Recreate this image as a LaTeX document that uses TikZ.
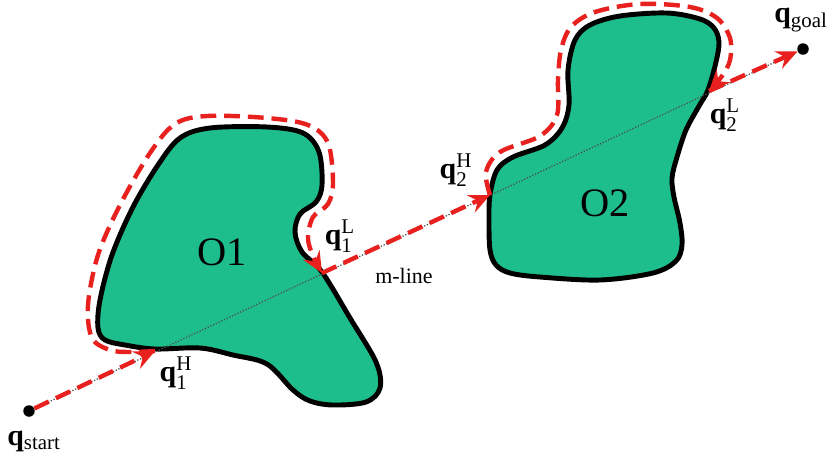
\documentclass[tikz,border=0pt]{standalone}
\usepackage{fontspec}
\setmainfont{Liberation Serif}
\usetikzlibrary{arrows.meta}
\definecolor{obgreen}{RGB}{30,190,140}
\definecolor{pathred}{RGB}{232,32,30}
\begin{document}
\begin{tikzpicture}[x=0.02cm,y=-0.02cm,
  obstacle/.style={fill=obgreen, draw=black, line width=2.8pt, line join=round},
  mline/.style={draw=black!70, line width=0.7pt, densely dotted},
  route/.style={draw=pathred, line width=2.5pt, dash pattern=on 9pt off 4.5pt,
    -{Stealth[length=0.42cm,width=0.38cm,inset=0.15cm]}},
  qlabel/.style={font=\fontsize{17}{19}\selectfont, inner sep=0pt},
  olabel/.style={font=\fontsize{23}{26}\selectfont, inner sep=0pt},
  smalllabel/.style={font=\fontsize{12.5}{14}\selectfont, inner sep=0pt},
  dot/.style={circle, fill=black, inner sep=0pt, minimum size=0.23cm}]
\useasboundingbox (0,0) rectangle (829,468);

% obstacles
\draw[obstacle] plot[smooth cycle, tension=0.55] coordinates {
  (155,349) (125,345) (105,340) (98,328) (100,300) (112,255) (133,207)
  (158,165) (180,138) (210,128) (267,127) (303,133) (319,152) (322,185)
  (316,202) (300,214) (295,232) (302,252) (322,272) (350,318) (376,362)
  (380,388) (366,402) (333,405) (310,401) (293,390) (267,364) (233,355)
  (200,348)};
\draw[obstacle] plot[smooth cycle, tension=0.55] coordinates {
  (490,195) (489,220) (490,250) (496,265) (510,273) (540,277) (600,280)
  (653,273) (676,261) (682,245) (680,223) (674,197) (672,178) (677,157)
  (686,130) (699,106) (708,90) (716,62) (719,42) (714,28) (700,19)
  (667,13) (620,16) (590,25) (575,40) (568,70) (569,105) (562,128)
  (545,145) (513,157) (497,170)};

% points
\node[dot] (s) at (29,411) {};
\node[dot] (g) at (803,49) {};
\coordinate (h1) at (155,351);
\coordinate (l1) at (322,273);
\coordinate (h2) at (490,195);
\coordinate (l2) at (709,91);

% m-line
\draw[mline] (s) -- (g);

% routes
\draw[route] (s) -- (h1);
\draw[route] plot[smooth, tension=0.55] coordinates {
  (h1) (130,352) (110,350) (92,338) (88,305) (98,255) (120,205) (150,153)
  (175,124) (207,116) (267,118) (308,125) (328,143) (333,183) (328,204)
  (313,217) (308,238) (313,256) (l1)};
\draw[route] (l1) -- (h2);
\draw[route] plot[smooth, tension=0.55] coordinates {
  (h2) (486,172) (500,152) (540,136) (557,115) (558,80) (561,50) (571,27)
  (595,12) (640,4) (690,7) (717,18) (730,38) (730,60) (722,76) (l2)};
\draw[route] (l2) -- (g);

% labels
\node[qlabel] (ls) at (34,441) {$\mathbf{q}_{\mathrm{start}}$};
\node[qlabel] (lg) at (801,20) {$\mathbf{q}_{\mathrm{goal}}$};
\node[qlabel] (lh1) at (176,373) {$\mathbf{q}^{\mathrm{H}}_{\mathrm{1}}$};
\node[qlabel] (ll1) at (340,236) {$\mathbf{q}^{\mathrm{L}}_{\mathrm{1}}$};
\node[qlabel] (lh2) at (456,170) {$\mathbf{q}^{\mathrm{H}}_{\mathrm{2}}$};
\node[qlabel] (ll2) at (725,115) {$\mathbf{q}^{\mathrm{L}}_{\mathrm{2}}$};
\node[olabel] (o1) at (222,252) {O1};
\node[olabel] (o2) at (605,203) {O2};
\node[smalllabel] (ml) at (404,276) {m-line};
\end{tikzpicture}
\end{document}
